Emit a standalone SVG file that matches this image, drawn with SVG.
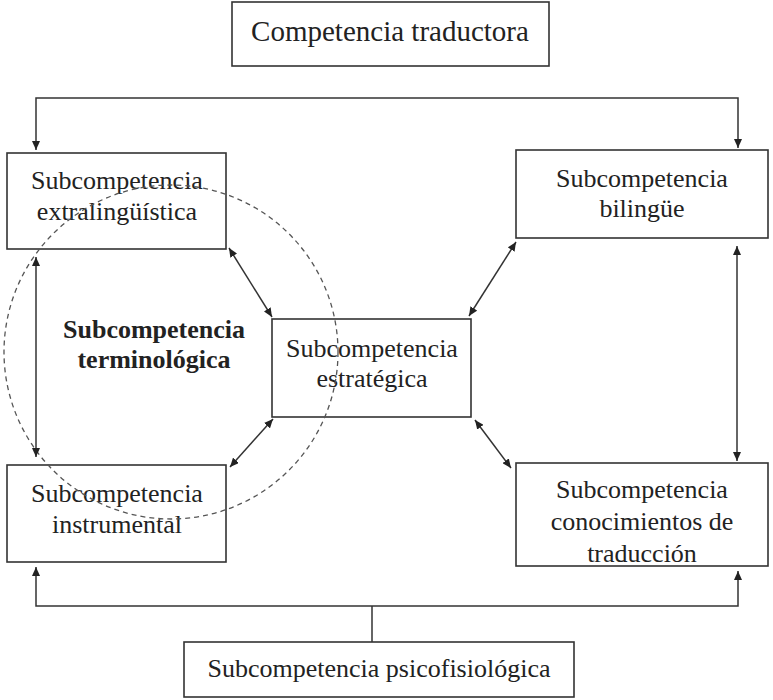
<svg xmlns="http://www.w3.org/2000/svg" width="773" height="700" viewBox="0 0 773 700">
<style>
.box{fill:#fff;stroke:#333;stroke-width:1.6}
.t{font-family:"Liberation Serif","Times New Roman",serif;font-size:26px;fill:#222;text-anchor:middle}
.b{font-weight:bold}
.c{fill:none;stroke:#333;stroke-width:1.5}
.d{fill:none;stroke:#555;stroke-width:1.3;stroke-dasharray:5 4}
</style>
<defs>
<marker id="ah" markerUnits="userSpaceOnUse" markerWidth="10" markerHeight="8" refX="9" refY="4" orient="auto-start-reverse">
<path d="M0,0 L9,4 L0,8 z" fill="#222"/>
</marker>
</defs>
<rect width="773" height="700" fill="#fff"/>
<g id="node-competencia">
<rect class="box" x="232" y="2" width="317" height="64"/>
<text class="t" x="390" y="41" style="font-size:29px">Competencia traductora</text>
</g>
<g id="node-extralinguistica">
<rect class="box" x="7" y="153" width="219" height="96"/>
<text class="t" x="117" y="189">Subcompetencia</text>
<text class="t" x="117" y="220">extralingüística</text>
</g>
<g id="node-bilingue">
<rect class="box" x="516" y="150" width="252" height="88"/>
<text class="t" x="642" y="187">Subcompetencia</text>
<text class="t" x="642" y="217">bilingüe</text>
</g>
<g id="node-estrategica">
<rect class="box" x="272" y="319" width="199" height="98"/>
<text class="t" x="372" y="357">Subcompetencia</text>
<text class="t" x="372" y="387">estratégica</text>
</g>
<g id="node-instrumental">
<rect class="box" x="7" y="465" width="219" height="97"/>
<text class="t" x="117" y="502">Subcompetencia</text>
<text class="t" x="117" y="533">instrumental</text>
</g>
<g id="node-conocimientos">
<rect class="box" x="516" y="463" width="252" height="103"/>
<text class="t" x="642" y="498">Subcompetencia</text>
<text class="t" x="642" y="530">conocimientos de</text>
<text class="t" x="642" y="562">traducción</text>
</g>
<g id="node-psicofisiologica">
<rect class="box" x="184" y="642" width="390" height="55"/>
<text class="t" x="379" y="677">Subcompetencia psicofisiológica</text>
</g>
<g id="node-terminologica">
<circle class="d" cx="171" cy="352" r="167"/>
<text class="t b" x="154" y="338">Subcompetencia</text>
<text class="t b" x="154" y="368">terminológica</text>
</g>
<g id="connectors">
<path class="c" d="M36,150 L36,98 L738,98 L738,148" marker-start="url(#ah)" marker-end="url(#ah)"/>
<path class="c" d="M36,567 L36,606 L738,606 L738,571" marker-start="url(#ah)" marker-end="url(#ah)"/>
<path class="c" d="M372,606 L372,642"/>
<path class="c" d="M36,257 L36,457" marker-start="url(#ah)" marker-end="url(#ah)"/>
<path class="c" d="M737,246 L737,461" marker-start="url(#ah)" marker-end="url(#ah)"/>
<path class="c" d="M229,248 L272,317" marker-start="url(#ah)" marker-end="url(#ah)"/>
<path class="c" d="M273,419 L230,467" marker-start="url(#ah)" marker-end="url(#ah)"/>
<path class="c" d="M469,316 L516,242" marker-start="url(#ah)" marker-end="url(#ah)"/>
<path class="c" d="M475,420 L511,468" marker-start="url(#ah)" marker-end="url(#ah)"/>
</g>
</svg>
